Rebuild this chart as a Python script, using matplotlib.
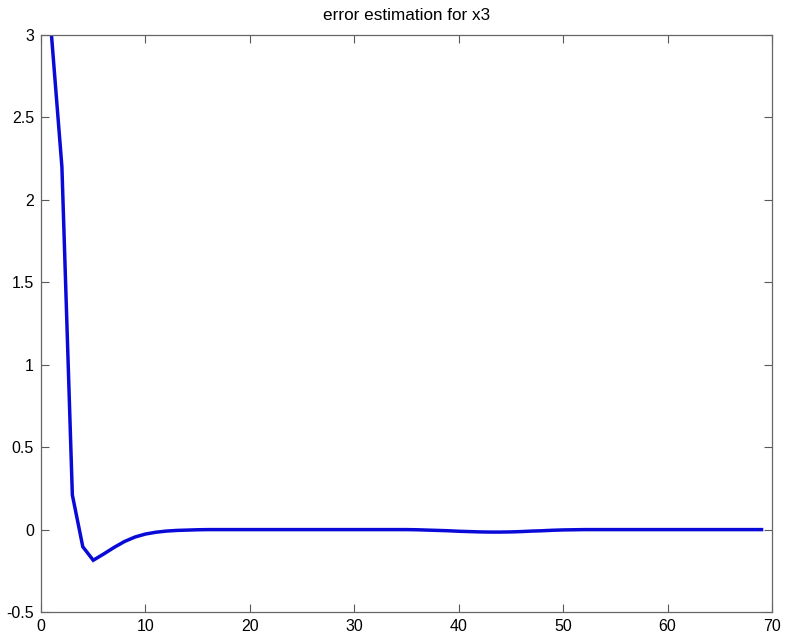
import matplotlib
matplotlib.use("Agg")
import matplotlib.pyplot as plt

# iteration index and estimation error for x3
steps = list(range(1, 70))
error_x3 = [
    3.0, 2.2, 0.21, -0.104, -0.186, -0.148, -0.108, -0.072, -0.045, -0.027,
    -0.016, -0.009, -0.005, -0.003, -0.001, 0.0, 0.0, 0.0, 0.0, 0.0,
    0.0, 0.0, 0.0, 0.0, 0.0, 0.0, 0.0, 0.0, 0.0, 0.0,
    0.0, 0.0, 0.0, 0.0, 0.0, -0.001, -0.003, -0.005, -0.007, -0.01,
    -0.012, -0.014, -0.015, -0.015, -0.014, -0.012, -0.009, -0.007, -0.004, -0.002,
    -0.001, 0.0, 0.0, 0.0, 0.0, 0.0, 0.0, 0.0, 0.0, 0.0,
    0.0, 0.0, 0.0, 0.0, 0.0, 0.0, 0.0, 0.0, 0.0,
]
x_ticks = [0, 10, 20, 30, 40, 50, 60, 70]
y_ticks = [-0.5, 0, 0.5, 1, 1.5, 2, 2.5, 3]
y_tick_labels = ["-0.5", "0", "0.5", "1", "1.5", "2", "2.5", "3"]

plt.rcParams["font.family"] = ["Liberation Sans", "DejaVu Sans"]

fig = plt.figure(figsize=(7.92, 6.4), dpi=100)
ax = fig.add_axes([0.0518, 0.0437, 0.9229, 0.9016])

ax.plot(steps, error_x3, color="#0a0ad8", linewidth=2.5, solid_joinstyle="miter")

ax.set_xlim(0, 70)
ax.set_ylim(-0.5, 3)
ax.set_xticks(x_ticks)
ax.set_yticks(y_ticks)
ax.set_yticklabels(y_tick_labels)
ax.tick_params(direction="in", length=6, width=0.8, color="0.35",
               top=True, right=True, labelsize=11.5, pad=5)
for side in ax.spines.values():
    side.set_color("0.4")
    side.set_linewidth(0.9)

ax.set_title("error estimation for x3", fontsize=12.3, pad=11)

fig.savefig("out.png", dpi=100)
